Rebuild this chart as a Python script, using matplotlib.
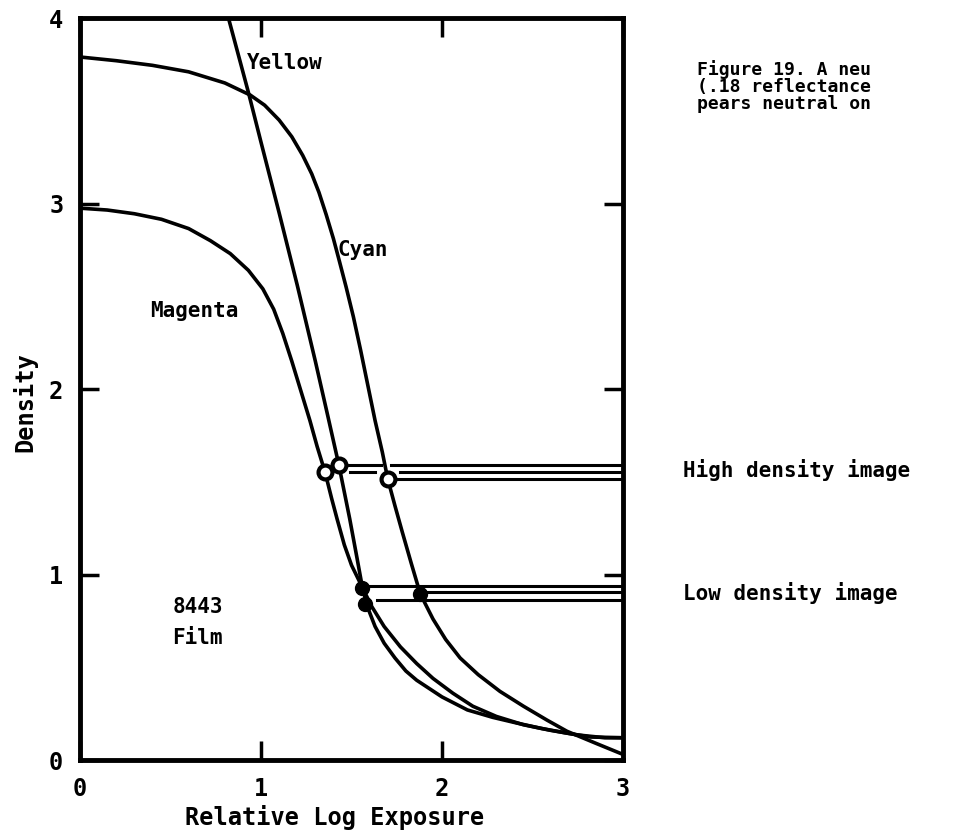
import matplotlib
matplotlib.use("Agg")
import matplotlib.pyplot as plt

# characteristic curves
cyan_x = [0.00, 0.20, 0.40, 0.60, 0.80, 0.94, 1.02, 1.10, 1.17, 1.23, 1.28, 1.32, 1.36, 1.40,
          1.43, 1.47, 1.51, 1.55, 1.59, 1.63, 1.67, 1.70, 1.74, 1.78, 1.83, 1.88, 1.95, 2.02,
          2.10, 2.20, 2.32, 2.45, 2.58, 2.69, 2.85, 3.00]
cyan_y = [3.79, 3.77, 3.745, 3.71, 3.65, 3.585, 3.53, 3.45, 3.36, 3.26, 3.16, 3.06, 2.94, 2.81,
          2.70, 2.55, 2.39, 2.21, 2.02, 1.83, 1.66, 1.515, 1.37, 1.23, 1.06, 0.895, 0.76, 0.65,
          0.55, 0.46, 0.37, 0.29, 0.215, 0.155, 0.09, 0.03]

yellow_x = [0.82, 0.93, 1.00, 1.10, 1.20, 1.30, 1.37, 1.43, 1.49, 1.53, 1.56, 1.59, 1.63, 1.68,
            1.74, 1.80, 1.86, 2.00, 2.14, 2.28, 2.41, 2.55, 2.69, 2.82, 3.00]
yellow_y = [4.00, 3.60, 3.33, 2.95, 2.56, 2.15, 1.85, 1.59, 1.30, 1.09, 0.93, 0.82, 0.72, 0.63,
            0.55, 0.48, 0.43, 0.34, 0.27, 0.23, 0.20, 0.17, 0.145, 0.124, 0.12]

magenta_x = [0.00, 0.15, 0.30, 0.45, 0.60, 0.72, 0.83, 0.93, 1.01, 1.07, 1.12, 1.17, 1.22, 1.27,
             1.31, 1.354, 1.39, 1.42, 1.46, 1.50, 1.56, 1.61, 1.68, 1.77, 1.86, 1.95, 2.06, 2.17,
             2.30, 2.45, 2.60, 2.75, 2.90, 3.00]
magenta_y = [2.975, 2.965, 2.945, 2.915, 2.865, 2.80, 2.73, 2.64, 2.54, 2.43, 2.30, 2.15, 1.99,
             1.83, 1.69, 1.55, 1.41, 1.30, 1.16, 1.05, 0.93, 0.83, 0.72, 0.61, 0.52, 0.44, 0.36,
             0.29, 0.235, 0.19, 0.16, 0.135, 0.12, 0.12]

# image density levels: y of each line and the x pieces it is drawn over
high_y = [1.59, 1.55, 1.515]
high_segs = [[(1.43, 1.66), (1.72, 3.0)], [(1.49, 1.63), (1.77, 3.0)], [(1.70, 3.0)]]
low_y = [0.94, 0.905, 0.86]
low_segs = [[(1.56, 3.0)], [(1.88, 3.0)], [(1.64, 3.0)]]

high_pts_x = [1.354, 1.43, 1.70]
high_pts_y = [1.55, 1.59, 1.515]
low_pts_x = [1.56, 1.575, 1.88]
low_pts_y = [0.93, 0.84, 0.895]

mono = "DejaVu Sans Mono"

fig = plt.figure(figsize=(9.63, 8.35), dpi=100)
ax = fig.add_axes([0.0831, 0.0898, 0.5639, 0.8886])

lw = 2.6
ax.plot(cyan_x, cyan_y, color="black", lw=lw, solid_capstyle="round")
ax.plot(yellow_x, yellow_y, color="black", lw=lw, solid_capstyle="round")
ax.plot(magenta_x, magenta_y, color="black", lw=lw, solid_capstyle="round")

for y, segs in zip(high_y + low_y, high_segs + low_segs):
    for x0, x1 in segs:
        ax.plot([x0, x1], [y, y], color="black", lw=2.2)

ax.plot(high_pts_x, high_pts_y, "o", ms=10, mfc="white", mec="black", mew=3, ls="none")
ax.plot(low_pts_x, low_pts_y, "o", ms=10, mfc="black", mec="black", ls="none")

ax.set_xlim(0, 3)
ax.set_ylim(0, 4)
ax.set_xticks([0, 1, 2, 3])
ax.set_yticks([0, 1, 2, 3, 4])
ax.tick_params(direction="in", length=14, width=2.5, top=True, right=True,
               labelsize=17, pad=12)
for lab in ax.get_xticklabels() + ax.get_yticklabels():
    lab.set_fontfamily(mono)
    lab.set_fontweight("bold")
for sp in ax.spines.values():
    sp.set_linewidth(3.5)

txt = dict(family=mono, fontweight="bold", fontsize=15, color="black")
ax.text(0.92, 3.76, "Yellow", va="center", ha="left", **txt)
ax.text(1.42, 2.75, "Cyan", va="center", ha="left", **txt)
ax.text(0.39, 2.42, "Magenta", va="center", ha="left", **txt)
ax.text(0.51, 0.825, "8443", va="center", ha="left", **txt)
ax.text(0.51, 0.66, "Film", va="center", ha="left", **txt)

big = dict(family=mono, fontweight="bold", fontsize=17, color="black")
fig.text(335 / 963, 1 - 818 / 835, "Relative Log Exposure", va="center", ha="center", **big)
fig.text(25 / 963, 1 - 402 / 835, "Density", va="center", ha="center", rotation=90, **big)

fig.text(683 / 963, 1 - 470 / 835, "High density image", va="center", ha="left", **txt)
fig.text(683 / 963, 1 - 593 / 835, "Low density image", va="center", ha="left", **txt)

cap = dict(family=mono, fontweight="bold", fontsize=13, color="black")
fig.text(697 / 963, 1 - 70 / 835, "Figure 19. A neu", va="center", ha="left", **cap)
fig.text(697 / 963, 1 - 87 / 835, "(.18 reflectance", va="center", ha="left", **cap)
fig.text(697 / 963, 1 - 104 / 835, "pears neutral on", va="center", ha="left", **cap)

fig.savefig("out.png", dpi=100, facecolor="white")
